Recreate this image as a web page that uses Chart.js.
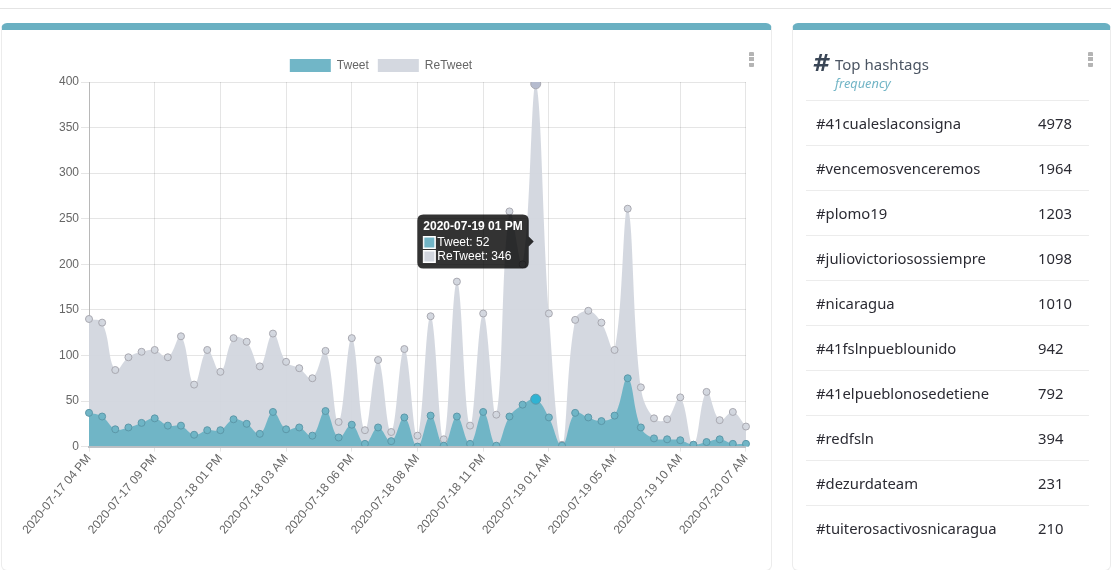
<!DOCTYPE html>
<html>
<head>
<meta charset="utf-8">
<title>Tweets</title>
<script src="https://cdn.jsdelivr.net/npm/chart.js@4"></script>
<style>
  html, body { margin: 0; padding: 0; background: #fff; overflow: hidden; width: 1111px; height: 570px; font-family: "Noto Sans", sans-serif; }
  .topline { position: absolute; left: 0; top: 8px; width: 1111px; height: 1px; background: #e4e4e4; }
  .card { position: absolute; top: 23px; height: 548px; box-sizing: border-box; background: #fff; border: 1px solid #ececec; border-top: 7px solid #6ab0c2; border-radius: 6px; }
  #card1 { left: 1px; width: 771px; }
  #card2 { left: 792px; width: 319px; border-right: 1px solid #ececec; }
  #box { position: absolute; left: 3px; top: 20px; width: 752px; height: 487px; }
  .dots { position: absolute; width: 5px; height: 15px; background: repeating-linear-gradient(#b4b4b4 0 4px, #fff 4px 5.5px); border-radius: 1px; }
  #card1 .dots { left: 747px; top: 22px; }
  #card2 .dots { left: 295px; top: 22px; }
  .hash { position: absolute; left: 19px; top: 20px; font: italic bold 23px "DejaVu Sans"; color: #3a4656; }
  .title { position: absolute; left: 42px; top: 24px; font-size: 15px; line-height: 20px; color: #4b5563; }
  .sub { position: absolute; left: 42px; top: 45px; font-size: 12.8px; line-height: 16px; font-style: italic; color: #72b5c6; }
  #list { position: absolute; left: 13px; top: 70px; width: 283px; }
  .row { position: relative; height: 45px; box-sizing: border-box; border-top: 1px solid #ececec; color: #2b2b33; font-size: 14.8px; line-height: 45px; }
  .row span { position: absolute; top: 0; }
  .row .tag { left: 10px; }
  .row .num { left: 232px; }
</style>
</head>
<body>
<div class="topline"></div>
<div class="card" id="card1">
  <div id="box"><canvas id="chartTweets"></canvas></div>
  <div class="dots"></div>
</div>
<div class="card" id="card2">
  <div class="hash">#</div>
  <div class="title">Top hashtags</div>
  <div class="sub">frequency</div>
  <div class="dots"></div>
  <div id="list"></div>
</div>
<script>
// Horas (rótulos); só os de 5 em 5 aparecem no eixo
const labels = [
  '2020-07-17 04 PM', '2020-07-17 05 PM', '2020-07-17 06 PM', '2020-07-17 07 PM', '2020-07-17 08 PM',
  '2020-07-17 09 PM', '2020-07-17 10 PM', '2020-07-17 11 PM', '2020-07-18 12 AM', '2020-07-18 12 PM',
  '2020-07-18 01 PM', '2020-07-18 01 AM', '2020-07-18 02 PM', '2020-07-18 02 AM', '2020-07-18 03 PM',
  '2020-07-18 03 AM', '2020-07-18 04 PM', '2020-07-18 04 AM', '2020-07-18 05 PM', '2020-07-18 05 AM',
  '2020-07-18 06 PM', '2020-07-18 06 AM', '2020-07-18 07 PM', '2020-07-18 07 AM', '2020-07-18 08 PM',
  '2020-07-18 08 AM', '2020-07-18 09 PM', '2020-07-18 09 AM', '2020-07-18 10 PM', '2020-07-18 10 AM',
  '2020-07-18 11 PM', '2020-07-18 11 AM', '2020-07-19 12 AM', '2020-07-19 12 PM', '2020-07-19 01 PM',
  '2020-07-19 01 AM', '2020-07-19 02 AM', '2020-07-19 02 PM', '2020-07-19 03 AM', '2020-07-19 04 AM',
  '2020-07-19 05 AM', '2020-07-19 06 AM', '2020-07-19 07 AM', '2020-07-19 08 AM', '2020-07-19 09 AM',
  '2020-07-19 10 AM', '2020-07-19 11 AM', '2020-07-20 04 AM', '2020-07-20 05 AM', '2020-07-20 06 AM',
  '2020-07-20 07 AM'
];
const tweets = [
  37, 33, 19, 21, 26, 31, 23, 23, 13, 18,
  18, 30, 25, 14, 38, 19, 21, 12, 39, 10,
  24, 3, 21, 6, 32, 0, 34, 1, 33, 3,
  38, 1, 33, 46, 52, 32, 1, 37, 32, 28,
  34, 75, 21, 9, 8, 7, 2, 5, 8, 3, 3
];
const retweets = [
  103, 103, 65, 77, 78, 75, 75, 98, 55, 88,
  64, 89, 90, 74, 86, 74, 65, 63, 66, 17,
  95, 15, 74, 10, 75, 12, 109, 7, 148, 20,
  108, 34, 225, 154, 346, 114, 1, 102, 117, 108,
  72, 186, 44, 22, 22, 47, 0, 55, 21, 35, 19
];
const hashtags = ['#41cualeslaconsigna', '#vencemosvenceremos', '#plomo19', '#juliovictoriosossiempre', '#nicaragua',
  '#41fslnpueblounido', '#41elpueblonosedetiene', '#redfsln', '#dezurdateam', '#tuiterosactivosnicaragua'];
const hashtagCounts = [4978, 1964, 1203, 1098, 1010, 942, 792, 394, 231, 210];

const ACTIVE_INDEX = 34; // ponto com o tooltip aberto

const list = document.getElementById('list');
hashtags.forEach((tag, i) => {
  const row = document.createElement('div');
  row.className = 'row';
  row.innerHTML = '<span class="tag">' + tag + '</span><span class="num">' + hashtagCounts[i] + '</span>';
  list.appendChild(row);
});

Chart.defaults.font.family = '"Liberation Sans", Arial, sans-serif';
Chart.defaults.font.size = 12;
Chart.defaults.color = '#666';

function serie(label, data, fill, border, hover) {
  return {
    label: label,
    data: data,
    fill: 'origin',
    backgroundColor: fill,
    borderColor: '#e9eef2',
    borderWidth: 0,
    tension: 0.4,
    pointRadius: 3.5,
    pointBorderWidth: 1,
    pointBackgroundColor: fill,
    pointBorderColor: border,
    pointHoverRadius: 5,
    pointHoverBorderWidth: 1,
    pointHoverBackgroundColor: hover,
    pointHoverBorderColor: border
  };
}

const chart = new Chart(document.getElementById('chartTweets').getContext('2d'), {
  type: 'line',
  data: {
    labels: labels,
    datasets: [
      serie('Tweet', tweets, 'rgba(110, 181, 198, 0.98)', '#5c97a8', '#2fb3d3'),
      serie('ReTweet', retweets, 'rgba(210, 214, 222, 0.95)', '#a8a8b0', '#b5bbce')
    ]
  },
  options: {
    responsive: true,
    maintainAspectRatio: false,
    animation: false,
    interaction: { mode: 'index', intersect: false },
    plugins: {
      legend: {
        position: 'top',
        labels: { boxWidth: 41, boxHeight: 13, padding: 9, color: '#666' }
      },
      tooltip: {
        backgroundColor: 'rgba(0, 0, 0, 0.8)',
        cornerRadius: 6,
        caretSize: 5,
        padding: 6,
        titleMarginBottom: 4,
        bodySpacing: 2,
        boxPadding: 0,
        titleFont: { size: 12, weight: 'bold', lineHeight: 1 },
        bodyFont: { size: 12, lineHeight: 1 },
        bodyColor: '#fff',
        callbacks: {
          labelColor: ctx => ({
            borderColor: '#fff',
            backgroundColor: ctx.datasetIndex === 0 ? '#72b5c6' : '#d2d6de'
          })
        }
      }
    },
    scales: {
      x: {
        stacked: true,
        grid: { color: 'rgba(0, 0, 0, 0.1)', tickLength: 5 },
        border: { color: 'rgba(185, 190, 195, 0.95)', width: 2, z: 1 },
        ticks: { maxTicksLimit: 11, autoSkip: true, minRotation: 50, maxRotation: 50, padding: 0, color: '#666' }
      },
      y: {
        stacked: true,
        min: 0,
        max: 400,
        // eixo mais largo, a legenda fica centrada no canvas inteiro
        afterFit: axis => { axis.width = 84; },
        grid: { color: 'rgba(0, 0, 0, 0.1)', tickLength: 8 },
        border: { color: 'rgba(0, 0, 0, 0.2)' },
        ticks: { stepSize: 50, padding: 2, color: '#666' }
      }
    }
  }
});

// Abre o tooltip no mesmo ponto da imagem
const ativos = [{ datasetIndex: 0, index: ACTIVE_INDEX }, { datasetIndex: 1, index: ACTIVE_INDEX }];
chart.setActiveElements(ativos);
chart.tooltip.setActiveElements(ativos, { x: 0, y: 0 });
chart.update();
</script>
</body>
</html>
